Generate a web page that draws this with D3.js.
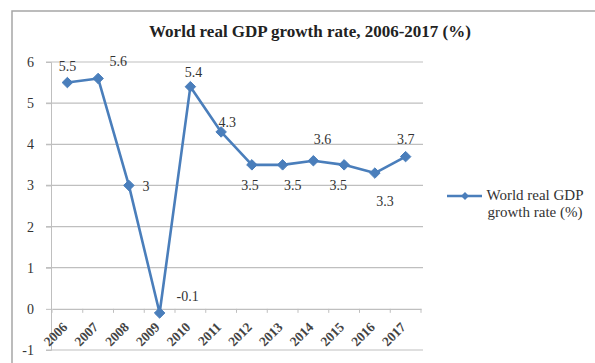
<!DOCTYPE html>
<html><head><meta charset="utf-8">
<script src="https://cdn.jsdelivr.net/npm/d3@7"></script>
<style>
html,body{margin:0;padding:0;background:#fff;}
svg text{font-family:"Liberation Serif","Times New Roman","DejaVu Serif",serif !important;}
</style></head>
<body>
<svg id="c" width="595" height="363"></svg>
<script>
const years = ["2006","2007","2008","2009","2010","2011","2012","2013","2014","2015","2016","2017"];
const growth = [5.5, 5.6, 3, -0.1, 5.4, 4.3, 3.5, 3.5, 3.6, 3.5, 3.3, 3.7];
const yTicks = [-1, 0, 1, 2, 3, 4, 5, 6];
const seriesName = ["World real GDP", "growth rate (%)"];
const title = "World real GDP growth rate, 2006-2017 (%)";
// label placement offsets (dx, dy relative to point)
const labelDx = [0, 20, 17, 28, 3, 6, -2, 10, 9, -6, 10, 0];
const labelDy = [-12, -12, 6, -12, -10, -5, 25, 25, -17, 25, 33, -13];

const svg = d3.select("#c");
const blue = "#4a7ebb";

svg.append("rect").attr("x", 12).attr("y", 11).attr("width", 600).attr("height", 400)
  .attr("fill", "#fff").attr("stroke", "#a6a6a6").attr("stroke-width", 1.5);

const x = d3.scaleBand().domain(years).range([52, 421]);
const y = d3.scaleLinear().domain([-1, 6]).range([350, 62]);
const cx = d => x(d) + x.bandwidth() / 2;

// gridlines
svg.append("g").selectAll("line").data(yTicks.filter(t => t !== 0)).join("line")
  .attr("x1", 46).attr("x2", 423).attr("y1", d => y(d)).attr("y2", d => y(d))
  .attr("stroke", "#bfbfbf").attr("stroke-width", 1.2);

// y axis
const yAxis = d3.axisLeft(y).tickValues(yTicks).tickSize(5).tickPadding(12).tickFormat(d => String(d));
const gy = svg.append("g").attr("transform", "translate(51,0)").call(yAxis);
gy.select(".domain").attr("stroke", "#bfbfbf");
gy.selectAll(".tick line").attr("stroke", "#bfbfbf");
gy.selectAll("text").attr("font-size", 14).attr("fill", "#333");

// x axis at y=0
const xAxis = d3.axisBottom(x).tickSize(0).tickPadding(0);
const gx = svg.append("g").attr("transform", `translate(0,${y(0)})`).call(xAxis);
gx.select(".domain").attr("stroke", "#bfbfbf").attr("stroke-width", 1.2);
gx.selectAll("text")
  .attr("font-size", 13.5).attr("font-weight", "bold").attr("fill", "#444")
  .attr("text-anchor", "end").attr("dy", null).attr("y", 0)
  .attr("transform", "translate(1,19) rotate(-45)");
// small tick marks at category boundaries
svg.append("g").selectAll("line").data(years.concat(["end"])).join("line")
  .attr("x1", (d, i) => 52 + i * x.step()).attr("x2", (d, i) => 52 + i * x.step())
  .attr("y1", y(0)).attr("y2", y(0) + 4).attr("stroke", "#bfbfbf");

// line
const line = d3.line().x((d, i) => cx(years[i])).y(d => y(d));
svg.append("path").datum(growth).attr("d", line).attr("fill", "none")
  .attr("stroke", blue).attr("stroke-width", 2.6).attr("stroke-linejoin", "round");

const diamond = d3.symbol().type(d3.symbolDiamond2).size(70);
svg.append("g").selectAll("path").data(growth).join("path")
  .attr("d", diamond)
  .attr("transform", (d, i) => `translate(${cx(years[i])},${y(d)})`)
  .attr("fill", blue).attr("stroke", blue).attr("stroke-width", 1);

// data labels
svg.append("g").selectAll("text").data(growth).join("text")
  .attr("x", (d, i) => cx(years[i]) + labelDx[i])
  .attr("y", (d, i) => y(d) + labelDy[i])
  .attr("text-anchor", "middle").attr("font-size", 14).attr("fill", "#333")
  .text(d => String(d));

// title
svg.append("text").attr("x", 310).attr("y", 37).attr("text-anchor", "middle")
  .attr("font-size", 17).attr("font-weight", "bold").attr("fill", "#222").text(title);

// legend
const lg = svg.append("g");
lg.append("line").attr("x1", 447).attr("x2", 482).attr("y1", 196).attr("y2", 196)
  .attr("stroke", blue).attr("stroke-width", 2.4);
lg.append("path").attr("d", d3.symbol().type(d3.symbolDiamond2).size(40))
  .attr("transform", "translate(465,196)").attr("fill", blue);
lg.append("text").attr("x", 535).attr("y", 200).attr("text-anchor", "middle")
  .attr("font-size", 15).attr("fill", "#333").text(seriesName[0]);
lg.append("text").attr("x", 535).attr("y", 217).attr("text-anchor", "middle")
  .attr("font-size", 15).attr("fill", "#333").text(seriesName[1]);
</script>
</body></html>
